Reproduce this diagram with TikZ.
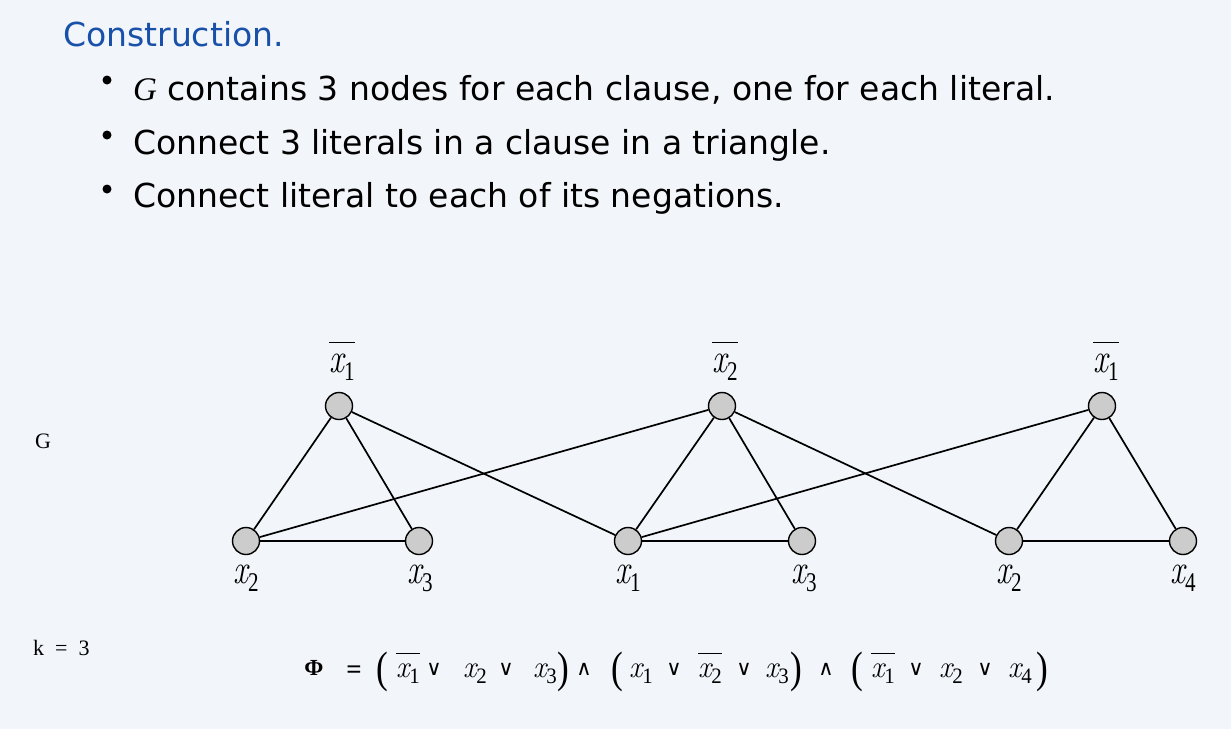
\documentclass[tikz,border=0pt]{standalone}
\usepackage{fontspec}
\usepackage{graphicx}
\setmainfont{DejaVu Sans}
\newfontfamily\tms{Liberation Serif}
\newfontfamily\lmr{Latin Modern Roman}
\usetikzlibrary{calc}
\definecolor{bg}{RGB}{242,245,249}
\definecolor{titleblue}{RGB}{25,80,170}
\definecolor{vgray}{RGB}{204,204,204}
% literals: graph labels and formula
\newcommand{\glit}[1]{\scalebox{0.78}[1]{\fontsize{42}{42}\selectfont\lmr\itshape x\tms\upshape\fontsize{27}{27}\selectfont\raisebox{-8pt}{#1}}}
\newcommand{\gneg}[1]{\setbox0\hbox{\glit{#1}}\vbox{\hrule height 1.3pt width \wd0\kern 10pt\box0}}
\newcommand{\flit}[1]{\scalebox{0.95}[1]{\fontsize{31}{31}\selectfont\lmr\itshape x\tms\upshape\fontsize{22}{22}\selectfont\raisebox{-6pt}{#1}}}
\newcommand{\fneg}[1]{\setbox0\hbox{\flit{#1}}\vbox{\hrule height 1.2pt width \wd0\kern 9.5pt\box0}}

\begin{document}
\begin{tikzpicture}[x=1pt,y=-1pt,
  txt/.style={anchor=base west,inner sep=0,font=\fontsize{33}{40}\selectfont},
  bul/.style={circle,fill=black,inner sep=0,minimum size=9pt},
  vtx/.style={circle,draw,line width=1.4pt,fill=vgray,inner sep=0,minimum size=27pt},
  link/.style={line width=1.7pt},
  lbl/.style={anchor=base,inner sep=0},
  side/.style={anchor=base west,inner sep=0,font=\tms\fontsize{22}{22}\selectfont},
  op/.style={anchor=base,inner sep=0,font=\fontsize{21}{21}\selectfont},
  paren/.style={anchor=base,inner sep=0,font=\tms\fontsize{44}{44}\selectfont}]
\useasboundingbox (0,0) rectangle (1231,729);
\fill[bg] (0,0) rectangle (1231,729);

% text
\node[txt,text=titleblue] (title) at (63,46) {Construction.};
\foreach \y [count=\i] in {80,135,189}
  \node[bul] (d\i) at (107,\y) {};
\node[txt] (l1) at (133,100) {{\tms\itshape G} contains 3 nodes for each clause, one for each literal.};
\node[txt] (l2) at (133,154) {Connect 3 literals in a clause in a triangle.};
\node[txt] (l3) at (133,207) {Connect literal to each of its negations.};
\node[side] (g) at (35,448) {G};
\node[side] (k) at (33,655) {k\hspace{11pt}=\hspace{11pt}3};

% clause nodes
\node[vtx] (a1) at (339,406) {};
\node[vtx] (b1) at (246,541) {};
\node[vtx] (c1) at (419,541) {};
\node[vtx] (a2) at (722,406) {};
\node[vtx] (b2) at (628,541) {};
\node[vtx] (c2) at (802,541) {};
\node[vtx] (a3) at (1102,406) {};
\node[vtx] (b3) at (1009,541) {};
\node[vtx] (c3) at (1183,541) {};

\draw[link] (a1) -- (b1) -- (c1) -- (a1);
\draw[link] (a2) -- (b2) -- (c2) -- (a2);
\draw[link] (a3) -- (b3) -- (c3) -- (a3);
\draw[link] (b1) -- (a2);
\draw[link] (a1) -- (b2);
\draw[link] (a2) -- (b3);
\draw[link] (b2) -- (a3);

\node[lbl] (la1) at (342,372) {\gneg{1}};
\node[lbl] (lb1) at (246,583) {\glit{2}};
\node[lbl] (lc1) at (420,583) {\glit{3}};
\node[lbl] (la2) at (725,372) {\gneg{2}};
\node[lbl] (lb2) at (628,583) {\glit{1}};
\node[lbl] (lc2) at (804,583) {\glit{3}};
\node[lbl] (la3) at (1106,372) {\gneg{1}};
\node[lbl] (lb3) at (1009,583) {\glit{2}};
\node[lbl] (lc3) at (1183,583) {\glit{4}};

% formula
\node[lbl,font=\tms\bfseries\fontsize{23}{23}\selectfont] (phi) at (314,675) {Φ};
\node[lbl,font=\tms\bfseries\fontsize{27}{27}\selectfont] (eq) at (354,678) {=};
\foreach \x in {382,617,857}
  \node[paren] (lp\x) at (\x,682) {\scalebox{0.8}[1]{(}};
\foreach \x in {563,796,1042}
  \node[paren] (rp\x) at (\x,682) {\scalebox{0.8}[1]{)}};
\foreach \x in {434,506,674,744,916,985}
  \node[op] (or\x) at (\x,675) {∨};
\foreach \x in {584,826}
  \node[op] (and\x) at (\x,675) {∧};
\node[lbl] (f1) at (408,677) {\fneg{1}};
\node[lbl] (f2) at (475,677) {\flit{2}};
\node[lbl] (f3) at (545,677) {\flit{3}};
\node[lbl] (f4) at (641,677) {\flit{1}};
\node[lbl] (f5) at (710,677) {\fneg{2}};
\node[lbl] (f6) at (777,677) {\flit{3}};
\node[lbl] (f7) at (883,677) {\fneg{1}};
\node[lbl] (f8) at (951,677) {\flit{2}};
\node[lbl] (f9) at (1020,677) {\flit{4}};
\end{tikzpicture}
\end{document}
